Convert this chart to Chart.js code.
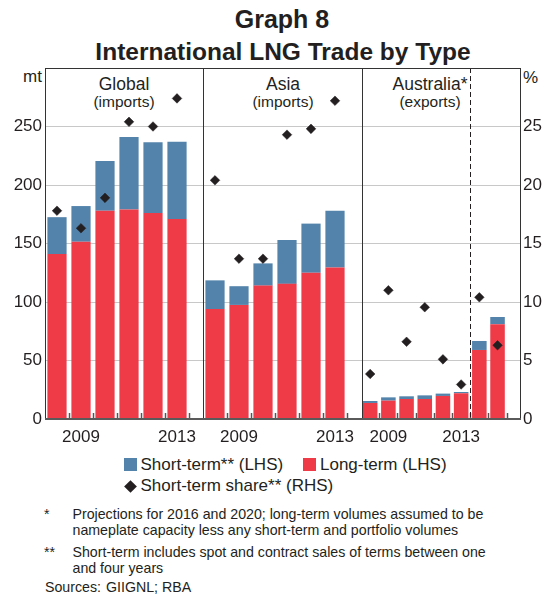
<!DOCTYPE html>
<html>
<head>
<meta charset="utf-8">
<script src="https://cdn.jsdelivr.net/npm/chart.js@4.4.1/dist/chart.umd.min.js"></script>
<style>
  body { margin: 0; width: 550px; height: 596px; background: #fff; position: relative; overflow: hidden;
         font-family: Arial, "Liberation Sans", sans-serif; color: #231f20; }
  .t { position: absolute; white-space: nowrap; line-height: 1; }
  .c { transform: translateX(-50%); }
  canvas { position: absolute; top: 60px; }
  .sq { position: absolute; width: 13px; height: 13px; }
  .fn { font-size: 14.2px; line-height: 16px; }
</style>
</head>
<body>
<div class="t c" style="left:282px;top:7px;font-size:25px;font-weight:bold">Graph 8</div>
<div class="t c" style="left:283px;top:39.5px;font-size:24.5px;font-weight:bold">International LNG Trade by Type</div>

<div class="t" style="right:508px;top:67.5px;font-size:17px">mt</div>
<div class="t" style="left:523px;top:68.5px;font-size:17px">%</div>

<div class="t c" style="left:124px;top:76px;font-size:17.5px">Global</div>
<div class="t c" style="left:124px;top:93.5px;font-size:15.5px">(imports)</div>
<div class="t c" style="left:283px;top:76px;font-size:17.5px">Asia</div>
<div class="t c" style="left:283px;top:93.5px;font-size:15.5px">(imports)</div>
<div class="t c" style="left:430px;top:76px;font-size:17.5px">Australia*</div>
<div class="t c" style="left:430px;top:93.5px;font-size:15.5px">(exports)</div>

<canvas id="global" width="203" height="390" style="left:0"></canvas>
<canvas id="asia" width="159" height="390" style="left:203px"></canvas>
<canvas id="australia" width="188" height="390" style="left:362px"></canvas>

<div class="sq" style="left:124px;top:458px;background:#5383ab"></div>
<div class="t" style="left:140.5px;top:456.3px;font-size:17px">Short-term** (LHS)</div>
<div class="sq" style="left:303px;top:458px;background:#ef3b48"></div>
<div class="t" style="left:320px;top:456.3px;font-size:17px">Long-term (LHS)</div>
<div class="sq" style="left:125.5px;top:482px;width:9px;height:9px;background:#231f20;transform:rotate(45deg)"></div>
<div class="t" style="left:140.5px;top:477.3px;font-size:17px">Short-term share** (RHS)</div>

<div class="t fn" style="left:44px;top:506px">*</div>
<div class="t fn" style="left:72.5px;top:506px">Projections for 2016 and 2020; long-term volumes assumed to be<br>nameplate capacity less any short-term and portfolio volumes</div>
<div class="t fn" style="left:44px;top:544px">**</div>
<div class="t fn" style="left:72.5px;top:544px">Short-term includes spot and contract sales of terms between one<br>and four years</div>
<div class="t fn" style="left:45px;top:579px">Sources:</div>
<div class="t fn" style="left:106px;top:579px">GIIGNL; RBA</div>

<script>
// values (mt and per cent)
const globalYears = ['2008', '2009', '2010', '2011', '2012', '2013'];
const globalLong = [141, 151.5, 178, 179, 176, 171];
const globalShort = [31.5, 30.5, 42.5, 62, 60.5, 66];
const globalShare = [17.8, 16.3, 18.9, 25.4, 25.0, 27.4];

const asiaYears = ['2008', '2009', '2010', '2011', '2012', '2013'];
const asiaLong = [94, 97.5, 114, 115.5, 125, 129.5];
const asiaShort = [24.5, 16, 19, 37.5, 42, 48.5];
const asiaShare = [20.4, 13.7, 13.7, 24.3, 24.8, 27.2];

const ausYears = ['2008', '2009', '2010', '2011', '2012', '2013', '2016', '2020'];
const ausLong = [13.7, 15.7, 17.1, 17.1, 19.7, 22.0, 59, 81];
const ausShort = [1.7, 2.8, 2.3, 3.1, 2.0, 1.1, 7.7, 6.2];
const ausShare = [3.85, 11.0, 6.6, 9.55, 5.1, 2.95, 10.4, 6.3];

const shownYears = ['2009', '2013'];

const BLUE = '#5383ab';
const RED = '#ef3b48';
const INK = '#231f20';

Chart.defaults.font.family = 'Arial, "Liberation Sans", sans-serif';
Chart.defaults.color = INK;

// frame, inner tick marks and the projection divider
const framePlugin = {
  id: 'frame',
  afterDatasetsDraw(chart, args, o) {
    const { ctx, chartArea: a, scales: { x } } = chart;
    ctx.save();
    ctx.strokeStyle = '#555';
    ctx.lineWidth = 1.5;
    for (let i = 0; i < o.count; i++) {
      const px = Math.round(x.getPixelForValue(i + 0.5)) + 0.5;
      ctx.beginPath();
      ctx.moveTo(px, a.bottom);
      ctx.lineTo(px, a.bottom - 6);
      ctx.stroke();
    }
    if (o.dashAt != null) {
      const px = Math.round(x.getPixelForValue(o.dashAt)) + 0.5;
      ctx.strokeStyle = INK;
      ctx.lineWidth = 1;
      ctx.setLineDash([5, 3]);
      ctx.beginPath();
      ctx.moveTo(px, a.top);
      ctx.lineTo(px, a.bottom);
      ctx.stroke();
      ctx.setLineDash([]);
    }
    ctx.strokeStyle = '#333';
    ctx.lineWidth = 1;
    ctx.beginPath();
    ctx.moveTo(a.left, a.top + 0.5);
    ctx.lineTo(a.right, a.top + 0.5);
    if (o.left) {
      ctx.moveTo(a.left + 0.5, a.top);
      ctx.lineTo(a.left + 0.5, a.bottom);
    }
    if (o.right) {
      ctx.moveTo(a.right - 0.5, a.top);
      ctx.lineTo(a.right - 0.5, a.bottom);
    }
    ctx.stroke();
    ctx.fillStyle = '#5a5a5a';
    ctx.fillRect(a.left, a.bottom - 1, a.right - a.left, 2);
    ctx.restore();
  }
};

function points(values) {
  return values.map((v, i) => ({ x: i, y: v }));
}

function makePanel(id, years, longV, shortV, shareV, cfg) {
  const el = document.getElementById(id);
  return new Chart(el, {
    type: 'bar',
    data: {
      datasets: [
        {
          type: 'line',
          label: 'Short-term share** (RHS)',
          data: points(shareV),
          yAxisID: 'y2',
          showLine: false,
          pointStyle: 'rectRot',
          pointRadius: 4.8,
          pointBackgroundColor: INK,
          pointBorderColor: INK,
          pointBorderWidth: 0.5,
          clip: false,
          order: 0
        },
        {
          label: 'Long-term (LHS)',
          data: points(longV),
          backgroundColor: RED,
          barPercentage: 0.8,
          categoryPercentage: 1,
          yAxisID: 'y',
          order: 1
        },
        {
          label: 'Short-term** (LHS)',
          data: points(shortV),
          backgroundColor: BLUE,
          barPercentage: 0.8,
          categoryPercentage: 1,
          yAxisID: 'y',
          order: 1
        }
      ]
    },
    options: {
      responsive: false,
      animation: false,
      events: [],
      layout: { autoPadding: false, padding: { top: 8, left: 0, right: 0, bottom: 0 } },
      plugins: {
        legend: { display: false },
        tooltip: { enabled: false },
        frame: { count: years.length, left: cfg.left, right: cfg.right, dashAt: cfg.dashAt }
      },
      scales: {
        x: {
          type: 'linear',
          stacked: true,
          offset: false,
          min: cfg.xMin,
          max: cfg.xMax,
          grid: { display: false, drawTicks: false, offset: false },
          border: { display: false },
          ticks: {
            font: { size: 17 },
            padding: 8,
            maxRotation: 0,
            callback: v => years[v]
          },
          afterBuildTicks: s => {
            s.ticks = years.map((y, i) => ({ value: i })).filter(t => shownYears.includes(years[t.value]));
          },
          afterFit: s => { s.height = 31; s.paddingLeft = 0; s.paddingRight = 0; }
        },
        y: {
          stacked: true,
          min: 0,
          max: 300,
          grid: { color: '#c8c8c8', lineWidth: 1, drawTicks: false },
          border: { display: false },
          ticks: {
            display: cfg.leftTicks,
            stepSize: 50,
            padding: 3,
            font: { size: 17 },
            callback: v => (v === 300 ? '' : v)
          },
          afterFit: s => {
            s.width = cfg.leftTicks ? 45 : 0;
            s.paddingTop = 0; s.paddingBottom = 0; s.paddingLeft = 0; s.paddingRight = 0;
          }
        },
        y2: {
          position: 'right',
          display: cfg.rightTicks,
          min: 0,
          max: 30,
          grid: { display: false, drawTicks: false },
          border: { display: false },
          ticks: {
            stepSize: 5,
            padding: 2,
            font: { size: 17 },
            callback: v => (v === 30 ? '' : v)
          },
          afterFit: s => {
            s.width = cfg.rightTicks ? 29 : 0;
            s.paddingTop = 0; s.paddingBottom = 0; s.paddingLeft = 0; s.paddingRight = 0;
          }
        }
      }
    },
    plugins: [framePlugin]
  });
}

makePanel('global', globalYears, globalLong, globalShort, globalShare,
  { xMin: -0.5, xMax: 6.083, left: true, right: false, leftTicks: true, rightTicks: false, dashAt: null });
makePanel('asia', asiaYears, asiaLong, asiaShort, asiaShare,
  { xMin: -0.5, xMax: 6.125, left: true, right: false, leftTicks: false, rightTicks: false, dashAt: null });
makePanel('australia', ausYears, ausLong, ausShort, ausShare,
  { xMin: -0.45, xMax: 8.29, left: true, right: true, leftTicks: false, rightTicks: true, dashAt: 5.5 });
</script>
</body>
</html>
